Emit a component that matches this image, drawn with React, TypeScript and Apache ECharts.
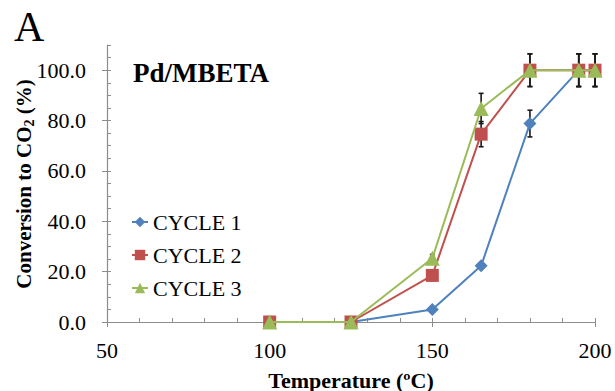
import React, { useEffect, useRef } from "react";
import * as echarts from "echarts";

const temps = [100, 125, 150, 165, 180, 195, 200];
const cycle1 = [0, 0, 5, 22.3, 78.8, 100, 100];
const cycle2 = [0, 0, 18.5, 74.6, 100, 100, 100];
const cycle3 = [0, 0, 25.3, 84.8, 100, 100, 100];
const err1 = [0, 0, 1, 1, 5.3, 6.5, 6.5];
const err2 = [0, 0, 1, 5, 6.5, 6.5, 6.5];
const err3 = [0, 0, 1.5, 6, 6.5, 6.5, 6.5];
const seriesNames = ["CYCLE 1", "CYCLE 2", "CYCLE 3"];
const colors = ["#4F81BD", "#C0504D", "#9BBB59"];
const symbols = ["diamond", "rect", "triangle"];
const symbolSizes = [13, 13, 15];
const xMajorTicks = [50, 100, 150, 200];
const yMajorTicks = [0, 20, 40, 60, 80, 100];

const SERIF = "Liberation Serif";
const AXIS_COLOR = "#8c8c8c";

export default function App() {
  const ref = useRef<HTMLDivElement>(null);
  useEffect(() => {
    if (!ref.current) return;
    const chart = echarts.init(ref.current, null, { renderer: "svg" });
    const values = [cycle1, cycle2, cycle3];
    const errs = [err1, err2, err3];

    const errSeries = values.map((vals, i) => ({
      type: "custom",
      name: "err" + i,
      z: 1,
      silent: true,
      encode: { x: 0, y: 1 },
      data: temps.map((t, j) => [t, vals[j], errs[i][j]]),
      renderItem: (params: any, api: any) => {
        const x = api.value(0);
        const y = api.value(1);
        const e = api.value(2);
        if (!e) return { type: "group", children: [] };
        const top = api.coord([x, y + e]);
        const bot = api.coord([x, y - e]);
        const w = 2.5;
        const st = { stroke: "#1a1a1a", lineWidth: 1.6 };
        return {
          type: "group",
          children: [
            { type: "line", shape: { x1: top[0], y1: top[1], x2: bot[0], y2: bot[1] }, style: st },
            { type: "line", shape: { x1: top[0] - w, y1: top[1], x2: top[0] + w, y2: top[1] }, style: st },
            { type: "line", shape: { x1: bot[0] - w, y1: bot[1], x2: bot[0] + w, y2: bot[1] }, style: st },
          ],
        };
      },
    }));

    const lineSeries = values.map((vals, i) => ({
      type: "line",
      name: seriesNames[i],
      z: 3 + i,
      data: temps.map((t, j) => [t, vals[j]]),
      symbol: symbols[i],
      symbolSize: symbolSizes[i],
      itemStyle: { color: colors[i] },
      lineStyle: { color: colors[i], width: 2 },
    }));

    const legendText = { fontFamily: SERIF, fontSize: 22, color: "#000" };

    chart.setOption({
      animation: false,
      textStyle: { fontFamily: SERIF },
      grid: { left: 107, right: 20, top: 45, bottom: 69, outerBoundsMode: "none", containLabel: false },
      legend: {
        data: seriesNames.map((n) => ({ name: n, textStyle: legendText })),
        orient: "vertical",
        left: 126,
        top: 206,
        itemWidth: 16,
        itemHeight: 13,
        itemGap: 11,
        textStyle: legendText,
      },
      graphic: [
        { type: "text", left: 14, top: 6, style: { text: "A", fontFamily: SERIF, fontSize: 42, fill: "#000" } },
        {
          type: "text",
          left: 133,
          top: 59,
          style: { text: "Pd/MBETA", fontFamily: SERIF, fontSize: 27, fontWeight: "bold", fill: "#000" },
        },
        {
          type: "text",
          x: 24,
          y: 184,
          rotation: Math.PI / 2,
          style: {
            text: "{b|Conversion to CO}{s|2}{b| (%)}",
            align: "center",
            verticalAlign: "middle",
            rich: {
              b: { fontFamily: SERIF, fontSize: 21, fontWeight: "bold", fill: "#000", lineHeight: 24 },
              s: { fontFamily: SERIF, fontSize: 14, fontWeight: "bold", fill: "#000", lineHeight: 16, verticalAlign: "bottom" },
            },
          },
        },
      ],
      xAxis: [
        {
          type: "value",
          min: 50,
          max: 200,
          interval: 10,
          name: "Temperature (ºC)",
          nameLocation: "middle",
          nameGap: 47,
          nameTextStyle: { fontFamily: SERIF, fontSize: 22, fontWeight: "bold", color: "#000" },
          axisLine: { lineStyle: { color: AXIS_COLOR, width: 1.2 } },
          axisTick: { inside: true, length: 4, lineStyle: { color: AXIS_COLOR } },
          splitLine: { show: false },
          axisLabel: {
            margin: 17,
            fontFamily: SERIF,
            fontSize: 22,
            color: "#000",
            formatter: (v: number) => (v % 50 === 0 ? String(v) : ""),
          },
        },
        {
          type: "value",
          min: 50,
          max: 200,
          interval: 50,
          position: "bottom",
          axisLine: { show: false },
          axisTick: { show: true, inside: false, length: 5, customValues: xMajorTicks, lineStyle: { color: AXIS_COLOR } },
          axisLabel: { show: false },
          splitLine: { show: false },
        },
      ],
      yAxis: [
        {
          type: "value",
          min: 0,
          max: 110,
          interval: 5,
          axisLine: { show: true, lineStyle: { color: AXIS_COLOR, width: 1.2 } },
          axisTick: { show: true, inside: true, length: 4, lineStyle: { color: AXIS_COLOR } },
          splitLine: { show: false },
          axisLabel: {
            margin: 21,
            fontFamily: SERIF,
            fontSize: 22,
            color: "#000",
            formatter: (v: number) => (v % 20 === 0 && v <= 100 ? v.toFixed(1) : ""),
          },
        },
        {
          type: "value",
          min: 0,
          max: 110,
          interval: 10,
          position: "left",
          axisLine: { show: false },
          axisTick: { show: true, inside: false, length: 5, customValues: yMajorTicks, lineStyle: { color: AXIS_COLOR } },
          axisLabel: { show: false },
          splitLine: { show: false },
        },
      ],
      series: [...errSeries, ...lineSeries],
    } as any);
    return () => chart.dispose();
  }, []);
  return <div ref={ref} style={{ width: 615, height: 391, position: "absolute", left: 0, top: 0, background: "#fff" }} />;
}
